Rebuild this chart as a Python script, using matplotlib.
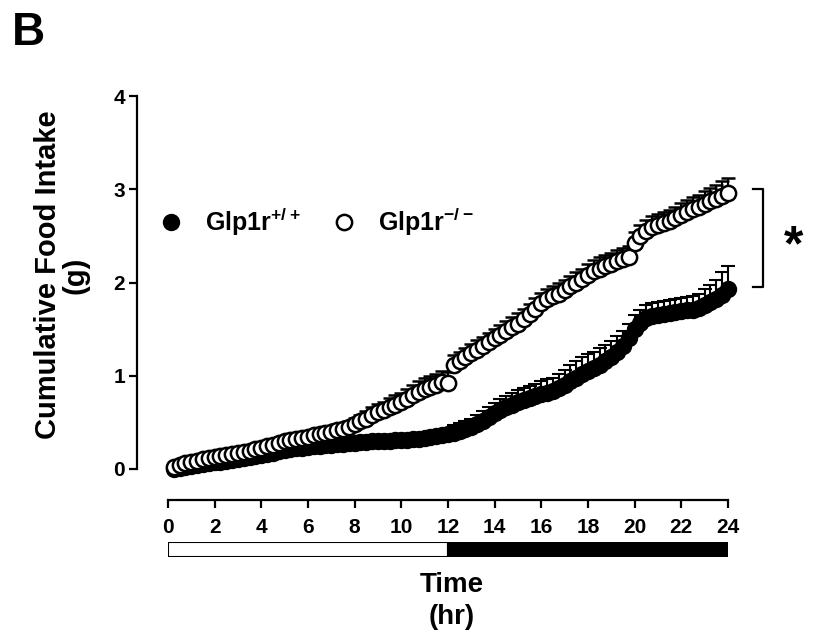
import numpy as np
import matplotlib
matplotlib.use("Agg")
import matplotlib.pyplot as plt
from matplotlib.lines import Line2D

plt.rcParams['font.family'] = ['Liberation Sans', 'DejaVu Sans']
plt.rcParams['font.weight'] = 'bold'
plt.rcParams['mathtext.fontset'] = 'custom'
plt.rcParams['mathtext.rm'] = 'Liberation Sans:bold'
plt.rcParams['mathtext.bf'] = 'Liberation Sans:bold'
plt.rcParams['mathtext.default'] = 'regular'

# Tiempo (h), cada 15 min
hours = np.arange(1, 97) * 0.25

# Glp1r+/+ (círculos rellenos)
wt_mean = [0.00, 0.01, 0.02, 0.03, 0.04, 0.05, 0.06, 0.07, 0.08, 0.09, 0.10, 0.11,
           0.12, 0.13, 0.14, 0.15, 0.16, 0.17, 0.19, 0.20, 0.21, 0.22, 0.23, 0.24,
           0.245, 0.25, 0.255, 0.26, 0.265, 0.27, 0.275, 0.28, 0.285, 0.29, 0.295, 0.30,
           0.30, 0.305, 0.31, 0.31, 0.315, 0.32, 0.325, 0.33, 0.34, 0.35, 0.36, 0.37,
           0.39, 0.41, 0.43, 0.45, 0.48, 0.52, 0.56, 0.60, 0.63, 0.66, 0.69, 0.72,
           0.74, 0.76, 0.78, 0.80, 0.82, 0.84, 0.87, 0.90, 0.94, 0.98, 1.02, 1.05,
           1.08, 1.12, 1.16, 1.20, 1.26, 1.32, 1.40, 1.50, 1.57, 1.62, 1.64, 1.65,
           1.66, 1.67, 1.68, 1.69, 1.70, 1.71, 1.73, 1.76, 1.79, 1.82, 1.87, 1.93]
wt_sem = [0.02, 0.02, 0.02, 0.02, 0.02, 0.02, 0.03, 0.03, 0.03, 0.03, 0.03, 0.03,
          0.03, 0.03, 0.03, 0.03, 0.03, 0.03, 0.03, 0.03, 0.03, 0.03, 0.03, 0.03,
          0.03, 0.03, 0.03, 0.03, 0.03, 0.03, 0.03, 0.03, 0.03, 0.03, 0.03, 0.03,
          0.04, 0.04, 0.04, 0.04, 0.04, 0.05, 0.05, 0.05, 0.05, 0.06, 0.06, 0.06,
          0.08, 0.08, 0.09, 0.09, 0.10, 0.10, 0.11, 0.11, 0.12, 0.12, 0.12, 0.13,
          0.13, 0.13, 0.13, 0.14, 0.14, 0.14, 0.15, 0.16, 0.17, 0.18, 0.18, 0.18,
          0.18, 0.18, 0.17, 0.17, 0.17, 0.16, 0.16, 0.15, 0.14, 0.14, 0.14, 0.14,
          0.14, 0.14, 0.14, 0.14, 0.14, 0.15, 0.15, 0.17, 0.18, 0.21, 0.24, 0.25]

# Glp1r-/- (círculos abiertos)
ko_mean = [0.02, 0.04, 0.06, 0.07, 0.09, 0.11, 0.12, 0.13, 0.14, 0.15, 0.16, 0.17,
           0.18, 0.19, 0.21, 0.23, 0.25, 0.26, 0.28, 0.30, 0.31, 0.32, 0.33, 0.34,
           0.36, 0.37, 0.39, 0.40, 0.42, 0.43, 0.45, 0.48, 0.51, 0.54, 0.58, 0.61,
           0.63, 0.66, 0.69, 0.72, 0.75, 0.79, 0.83, 0.86, 0.88, 0.90, 0.93, 0.92,
           1.12, 1.16, 1.20, 1.24, 1.28, 1.32, 1.36, 1.40, 1.44, 1.48, 1.52, 1.56,
           1.61, 1.66, 1.72, 1.78, 1.82, 1.85, 1.88, 1.92, 1.96, 2.00, 2.04, 2.08,
           2.12, 2.15, 2.18, 2.20, 2.23, 2.25, 2.27, 2.42, 2.50, 2.55, 2.59, 2.62,
           2.64, 2.66, 2.69, 2.72, 2.76, 2.79, 2.81, 2.84, 2.87, 2.90, 2.93, 2.96]
ko_sem = [0.02, 0.02, 0.02, 0.03, 0.03, 0.03, 0.03, 0.03, 0.03, 0.03, 0.04, 0.04,
          0.04, 0.04, 0.04, 0.04, 0.04, 0.04, 0.05, 0.05, 0.05, 0.05, 0.05, 0.05,
          0.05, 0.05, 0.06, 0.06, 0.06, 0.06, 0.07, 0.07, 0.07, 0.08, 0.08, 0.09,
          0.09, 0.10, 0.10, 0.10, 0.11, 0.11, 0.11, 0.12, 0.12, 0.12, 0.12, 0.12,
          0.10, 0.10, 0.10, 0.10, 0.10, 0.10, 0.10, 0.10, 0.10, 0.11, 0.11, 0.11,
          0.11, 0.11, 0.11, 0.11, 0.11, 0.11, 0.11, 0.11, 0.11, 0.11, 0.11, 0.12,
          0.12, 0.12, 0.12, 0.12, 0.12, 0.12, 0.12, 0.12, 0.12, 0.12, 0.12, 0.12,
          0.12, 0.12, 0.12, 0.13, 0.13, 0.13, 0.13, 0.14, 0.14, 0.15, 0.16, 0.16]

fig = plt.figure(figsize=(8.15, 6.38), dpi=100)
ax = fig.add_axes([0.2061, 0.2649, 0.6871, 0.5846])

wt_mean = np.array(wt_mean)
ko_mean = np.array(ko_mean)

ax.errorbar(hours, wt_mean, yerr=[np.zeros(len(wt_sem)), wt_sem], fmt='o', color='black',
            mfc='black', mec='black', ms=11, mew=1.5, elinewidth=1.5, capsize=5,
            capthick=1.5, clip_on=False, zorder=3)
ax.errorbar(hours, ko_mean, yerr=[np.zeros(len(ko_sem)), ko_sem], fmt='o', color='black',
            mfc='white', mec='black', ms=11, mew=1.8, elinewidth=1.5, capsize=5,
            capthick=1.5, clip_on=False, zorder=4)

ax.set_xlim(0, 24)
ax.set_ylim(0, 4)
ax.set_xticks(np.arange(0, 25, 2))
ax.set_yticks([0, 1, 2, 3, 4])

for s in ['top', 'right']:
    ax.spines[s].set_visible(False)
ax.spines['left'].set_position(('outward', 22))
ax.spines['bottom'].set_position(('outward', 22))
ax.spines['left'].set_bounds(0, 4)
ax.spines['bottom'].set_bounds(0, 24)
ax.spines['left'].set_linewidth(1.6)
ax.spines['bottom'].set_linewidth(1.6)
ax.tick_params(axis='both', length=6, width=1.6, labelsize=15)
ax.tick_params(axis='x', pad=7)
ax.tick_params(axis='y', pad=3)
for lab in ax.get_xticklabels() + ax.get_yticklabels():
    lab.set_fontweight('bold')

ax.set_ylabel('Cumulative Food Intake\n(g)', fontsize=21, fontweight='bold',
              va='center', linespacing=1.0)
ax.yaxis.set_label_coords(-0.19, 0.52)
ax.set_xlabel('Time\n(hr)', fontsize=20, fontweight='bold', va='center', linespacing=1.3)
ax.xaxis.set_label_coords(0.507, -0.355)

handles = [Line2D([], [], ls='none', marker='o', ms=11, mfc='black', mec='black', mew=1.5),
           Line2D([], [], ls='none', marker='o', ms=11, mfc='white', mec='black', mew=1.8)]
ax.legend(handles, ['Glp1r$^{+/+}$', 'Glp1r$^{-/-}$'], loc='center left',
          bbox_to_anchor=(-0.057, 0.663), ncol=2, frameon=False,
          handlelength=1.0, handletextpad=0.85, columnspacing=1.25,
          prop={'size': 18, 'weight': 'bold'})

# bracket + asterisk
ax.plot([25.07, 25.5, 25.5, 25.07], [1.95, 1.95, 3.0, 3.0], color='black', lw=1.6,
        clip_on=False)
ax.text(26.8, 2.38, '*', fontsize=36, fontweight='bold', ha='center', va='center')

# light / dark bar
bar = fig.add_axes([0.2061, 0.127, 0.6871, 0.0235])
bar.barh(0, 12, left=0, height=1, color='white', edgecolor='black', lw=1.5)
bar.barh(0, 12, left=12, height=1, color='black', edgecolor='black', lw=1.5)
bar.set_xlim(0, 24)
bar.set_ylim(-0.5, 0.5)
bar.axis('off')

fig.text(12 / 815, (638 - 45) / 638, 'B', fontsize=33, fontweight='bold', va='baseline')

fig.savefig('out.png', dpi=100)
